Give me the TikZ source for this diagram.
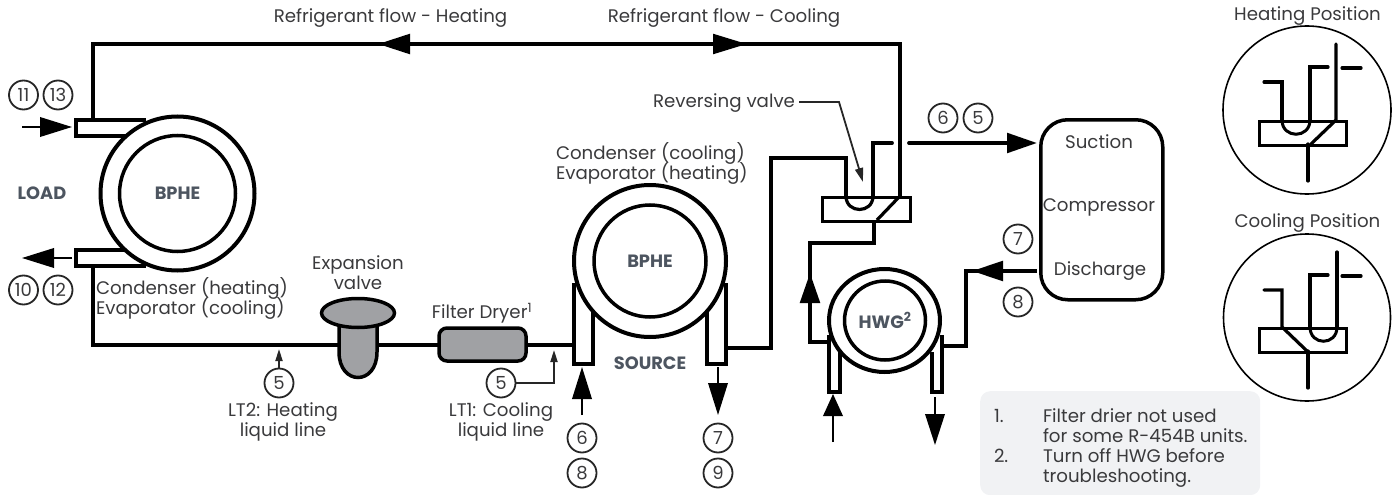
\documentclass[tikz,border=0pt]{standalone}
\usepackage{fontspec}
\setmainfont{Poppins}
\usetikzlibrary{arrows.meta,shapes.geometric}
\definecolor{txt}{HTML}{3A3A3C}
\definecolor{lab}{HTML}{4D5560}
\definecolor{valvegray}{HTML}{A0A1A4}
\definecolor{notebg}{HTML}{F1F2F4}
\newcommand{\lblfont}{\fontsize{18.2}{20}\selectfont\lineskiplimit=-20pt\relax}
\newcommand{\hdrfont}{\fontsize{17.8}{20}\selectfont\bfseries}
\tikzset{
  lbl/.style={text=txt,font=\lblfont,inner sep=0pt,outer sep=0pt},
  lblc/.style={lbl,align=center},
  hdr/.style={text=lab,font=\hdrfont,inner sep=0pt},
  num/.style={circle,draw=black!85,line width=1.8pt,fill=white,minimum size=29pt,inner sep=0pt,outer sep=0pt,text=txt,font=\fontsize{18}{20}\selectfont},
  ring/.style={circle,draw=black,line width=4pt,inner sep=0pt,outer sep=0pt,fill=white},
  ringin/.style={circle,draw=black,line width=3.5pt,inner sep=0pt,outer sep=0pt,fill=white},
  pipe/.style={draw=black,line width=3.8pt,line join=miter},
  thin pipe/.style={draw=black,line width=2pt},
  lead/.style={draw=black!85,line width=1.8pt},
  bighead/.style={-{Triangle[length=#1,width=19.5pt]}},
  bighead/.default=32pt,
  smallhead/.style={-{Triangle[length=12pt,width=7pt]}},
  vbox/.style={draw=black,line width=3pt,fill=white},
  vline/.style={draw=black,line width=3.2pt,line cap=round},
  inset/.style={circle,draw=black,line width=1.6pt},
}
\begin{document}
\begin{tikzpicture}[x=1pt,y=-1pt]
\useasboundingbox (0,0) rectangle (1398,495);
% note box
\node[fill=notebg,rounded corners=10pt,minimum width=280pt,minimum height=104pt,anchor=north west,inner sep=0pt] (notebox) at (980,391) {};

% ---- coordinates
\coordinate (tl) at (93,44);
\coordinate (tr) at (900,44);
\coordinate (loadtop) at (93,120);
\coordinate (loadbot) at (93,266);
\coordinate (bl) at (93,345);
\coordinate (srcin) at (574,345);
\coordinate (hL) at (410,44);
\coordinate (hT) at (378,44);
\coordinate (cL) at (713,44);
\coordinate (cT) at (747,44);
\coordinate (valveTR) at (900,196);
\coordinate (valveDiag) at (877,220);
\coordinate (vOutTop) at (874,220);
\coordinate (vOutElbow) at (874,243);
\coordinate (riseTop) at (810,243);
\coordinate (riseBase) at (810,303);
\coordinate (riseTip) at (810,273);
\coordinate (riseBot) at (810,342);
\coordinate (riseIn) at (828,342);
\coordinate (srcOut) at (727,348);
\coordinate (srcE1) at (771,348);
\coordinate (srcE2) at (771,158);
\coordinate (srcE3) at (846,158);
\coordinate (srcE4) at (846,196);
\coordinate (su1) at (873,196);
\coordinate (su2) at (873,143);
\coordinate (su3) at (892,143);
\coordinate (su4) at (909,143);
\coordinate (sucTip) at (1037,143);
\coordinate (disA) at (1037,271);
\coordinate (disB) at (1006,271);
\coordinate (disT) at (972,271);
\coordinate (disE) at (966,271);
\coordinate (disF) at (966,346);
\coordinate (disG) at (942,346);
\coordinate (revC) at (839,102);
\coordinate (revT) at (863,182);

% top loop
\path[pipe] (loadtop) -- (tl) -- (tr) -- (valveTR);
\path[pipe,bighead=32pt] (hL) -- (hT);
\path[pipe,bighead=34pt] (cL) -- (cT);
% load stubs
\draw[pipe] (146,120) -- (76,120) -- (76,136) -- (130,136);
\draw[pipe] (130,250) -- (76,250) -- (76,266) -- (146,266);
% load hx
\node[ring,minimum size=154pt] (loadouter) at (177.5,193.5) {};
\node[ringin,minimum size=116pt,font=\hdrfont,text=lab] (loadhx) at (177.5,193.5) {BPHE};
\node[hdr] (loadlbl) at (42,193) {LOAD};

% liquid line
\path[pipe] (loadbot) -- (bl) -- (srcin);

% expansion valve
\draw[draw=black,line width=3.5pt,fill=valvegray] (339,320) -- (339,352) .. controls (339,386) and (377,386) .. (377,352) -- (377,320);
\node[ellipse,draw=black,line width=3.5pt,fill=valvegray,minimum width=73pt,minimum height=29pt,inner sep=0pt] (expv) at (358,313) {};
% filter
\node[draw=black,line width=3.5pt,fill=valvegray,rounded corners=8pt,minimum width=87pt,minimum height=33pt,inner sep=0pt] (filter) at (482.5,344.5) {};

% source hx
\draw[pipe] (574,283) -- (574,364) -- (593,364) -- (593,312);
\draw[pipe] (707,312) -- (707,364) -- (726,364) -- (726,283);
\node[ring,minimum size=152pt,fill=white] (srcouter) at (650,261) {};
\draw[pipe] (574,283) -- (574,300);
\draw[pipe] (726,283) -- (726,300);
\node[ringin,minimum size=112pt,font=\hdrfont,text=lab] (srchx) at (650,261) {BPHE};
\node[hdr] (srclbl) at (650,363) {SOURCE};

% pipes toward valve
\path[pipe] (srcOut) -- (srcE1) -- (srcE2) -- (srcE3) -- (srcE4);
\path[pipe] (su1) -- (su2) -- (su3);
\path[pipe,line cap=round] (su2) -- (su3);
% reversing valve
\node[vbox,minimum width=88pt,minimum height=24pt,inner sep=0pt,anchor=north west] (revvalve) at (821,196) {};
\draw[draw=black,line width=3.2pt] (srcE4) .. controls (846,214) and (873,214) .. (su1);
\draw[draw=black,line width=3.2pt] (valveTR) -- (valveDiag);
\path[pipe] (vOutTop) -- (vOutElbow) -- (riseTop) -- (riseBot) -- (riseIn);
\path[pipe,bighead=30pt] (riseBase) -- (riseTip);

% suction
\path[pipe,line cap=round] (su4) -- (1010,143);
\path[pipe,bighead=30pt] (1007,143) -- (sucTip);
% compressor
\node[draw=black,line width=3.5pt,rounded corners=27pt,fill=white,minimum width=122pt,minimum height=180pt,inner sep=0pt,anchor=north west] (comp) at (1039,118) {};
\node[lbl] (suc) at (1099,142) {Suction};
\node[lbl] (cmp) at (1099,207) {Compressor};
\node[lbl] (dis) at (1100,271) {Discharge};
% discharge
\path[pipe] (disA) -- (disB);
\path[pipe,bighead=31pt] (1004,271) -- (disT);
\path[pipe] (disB) -- (disE) -- (disF) -- (disG);

% HWG
\draw[pipe] (829,335) -- (829,392) -- (840,392) -- (840,352);
\draw[pipe] (932,352) -- (932,392) -- (942,392) -- (942,335);
\node[ellipse,draw=black,line width=4pt,fill=white,minimum width=111pt,minimum height=103pt,inner sep=0pt,outer sep=0pt] (hwgouter) at (884.5,320.5) {};
\draw[pipe] (942,335) -- (942,346);
\node[ellipse,draw=black,line width=3.5pt,fill=white,minimum width=81pt,minimum height=79pt,inner sep=0pt,font=\hdrfont,text=lab] (hwg) at (885,320.5) {HWG\textsuperscript{2}};

% side arrows
\coordinate (a1s) at (22,127); \coordinate (a1b) at (42,127); \coordinate (a1t) at (72,127);
\draw[thin pipe] (a1s) -- (a1b);
\draw[thin pipe,bighead=32pt] (a1b) -- (a1t);
\coordinate (a2s) at (72,258); \coordinate (a2b) at (52,258); \coordinate (a2t) at (22,258);
\draw[thin pipe] (a2s) -- (a2b);
\draw[thin pipe,bighead=32pt] (a2b) -- (a2t);
\coordinate (a3s) at (582,415); \coordinate (a3t) at (582,367);
\draw[thin pipe,bighead=32pt] (a3s) -- (a3t);
\coordinate (a4s) at (718,367); \coordinate (a4t) at (718,415);
\draw[thin pipe,bighead=32pt] (a4s) -- (a4t);
\coordinate (a5s) at (833,442); \coordinate (a5t) at (833,394);
\draw[thin pipe,bighead=22pt] (a5s) -- (a5t);
\coordinate (a6s) at (935,397); \coordinate (a6t) at (935,445);
\draw[thin pipe,bighead=31pt] (a6s) -- (a6t);

% numbered circles
\node[num] (n11) at (23.5,95) {11};
\node[num] (n13) at (58,95) {13};
\node[num] (n10) at (23.5,290) {10};
\node[num] (n12) at (58,290) {12};
\node[num] (n5a) at (279,383) {5};
\node[num] (n5b) at (501,383) {5};
\node[num] (n6a) at (582,438) {6};
\node[num] (n8a) at (582,473) {8};
\node[num] (n7a) at (718,438) {7};
\node[num] (n9a) at (718,473) {9};
\node[num] (n6b) at (943,118) {6};
\node[num] (n5c) at (978,118) {5};
\node[num] (n7b) at (1018,239) {7};
\node[num] (n8b) at (1018,302) {8};

% LT leads
\coordinate (lt2t) at (279,349);
\draw[lead,smallhead] (n5a) -- (lt2t);
\coordinate (lt1e) at (554,383); \coordinate (lt1t) at (554,350);
\draw[lead,smallhead] (n5b) -- (lt1e) -- (lt1t);

% labels
\node[lbl,anchor=center] (rh) at (390.5,18.5) {Refrigerant flow - Heating};
\node[lbl,anchor=center] (rc) at (724,18.5) {Refrigerant flow - Cooling};
\node[lbl,anchor=east] (rv) at (795,103) {Reversing valve};
\draw[lead,-{Triangle[length=14pt,width=8pt]}] (799,102) coordinate (rvs) -- (revC) -- (revT);
\node[lblc,align=left,anchor=west] (ccond) at (556,163) {Condenser (cooling)\\Evaporator (heating)};
\node[lblc,align=left,anchor=west] (lcond) at (96,298.5) {Condenser (heating)\\Evaporator (cooling)};
\node[lblc] (expl) at (358,273) {Expansion\\valve};
\node[lbl] (fl) at (482,313) {Filter Dryer\textsuperscript{1}};
\node[lblc] (lt2) at (283,421.5) {LT2: Heating\\liquid line};
\node[lblc] (lt1) at (501,421.5) {LT1: Cooling\\liquid line};

% notes
\node[lbl,anchor=west] (nt1) at (994,416) {1.};
\node[lbl,anchor=west] (nt1a) at (1043,416) {Filter drier not used};
\node[lbl,anchor=west] (nt1b) at (1043,436) {for some R-454B units.};
\node[lbl,anchor=west] (nt2) at (994,456) {2.};
\node[lbl,anchor=west] (nt2a) at (1043,456) {Turn off HWG before};
\node[lbl,anchor=west] (nt2b) at (1043,478) {troubleshooting.};

% Heating position inset
\node[lbl] (hp) at (1307.5,16.5) {Heating Position};
\node[inset,minimum size=168pt,inner sep=0pt] (hpc) at (1307,110) {};
\node[vbox,minimum width=87pt,minimum height=24pt,inner sep=0pt,anchor=north west] (hpv) at (1258,120) {};
\coordinate (h1) at (1264,82); \coordinate (h2) at (1282,82); \coordinate (h3) at (1282,120);
\coordinate (h4) at (1310,120); \coordinate (h5) at (1310,67); \coordinate (h6) at (1328,67);
\coordinate (h7) at (1336,44); \coordinate (h8) at (1336,120); \coordinate (h9) at (1311,144);
\coordinate (h10) at (1308,144); \coordinate (h11) at (1308,181); \coordinate (h12) at (1342,68); \coordinate (h13) at (1361,68);
\path[vline] (h1) -- (h2) -- (h3);
\path[vline] (h4) -- (h5) -- (h6);
\path[vline] (h7) -- (h8) -- (h9);
\path[vline] (h10) -- (h11);
\path[vline] (h12) -- (h13);
\draw[draw=black,line width=3pt] (h3) .. controls (1282,139) and (1310,139) .. (h4);

% Cooling position inset
\node[lbl] (cp) at (1307.5,223.5) {Cooling Position};
\node[inset,minimum size=167pt,inner sep=0pt] (cpc) at (1307,317.5) {};
\node[vbox,minimum width=87pt,minimum height=24pt,inner sep=0pt,anchor=north west] (cpv) at (1258,327) {};
\coordinate (k1) at (1264,290); \coordinate (k2) at (1282,290); \coordinate (k3) at (1282,327);
\coordinate (k4) at (1310,327); \coordinate (k5) at (1310,275); \coordinate (k6) at (1328,275);
\coordinate (k7) at (1337,252); \coordinate (k8) at (1337,327); \coordinate (k9) at (1307,351);
\coordinate (k10) at (1308,351); \coordinate (k11) at (1308,388); \coordinate (k12) at (1342,276); \coordinate (k13) at (1361,276);
\path[vline] (k1) -- (k2) -- (k3) -- (k9);
\path[vline] (k4) -- (k5) -- (k6);
\path[vline] (k7) -- (k8);
\path[vline] (k10) -- (k11);
\path[vline] (k12) -- (k13);
\draw[draw=black,line width=3pt] (k4) .. controls (1310,346) and (1337,346) .. (k8);
\end{tikzpicture}
\end{document}
